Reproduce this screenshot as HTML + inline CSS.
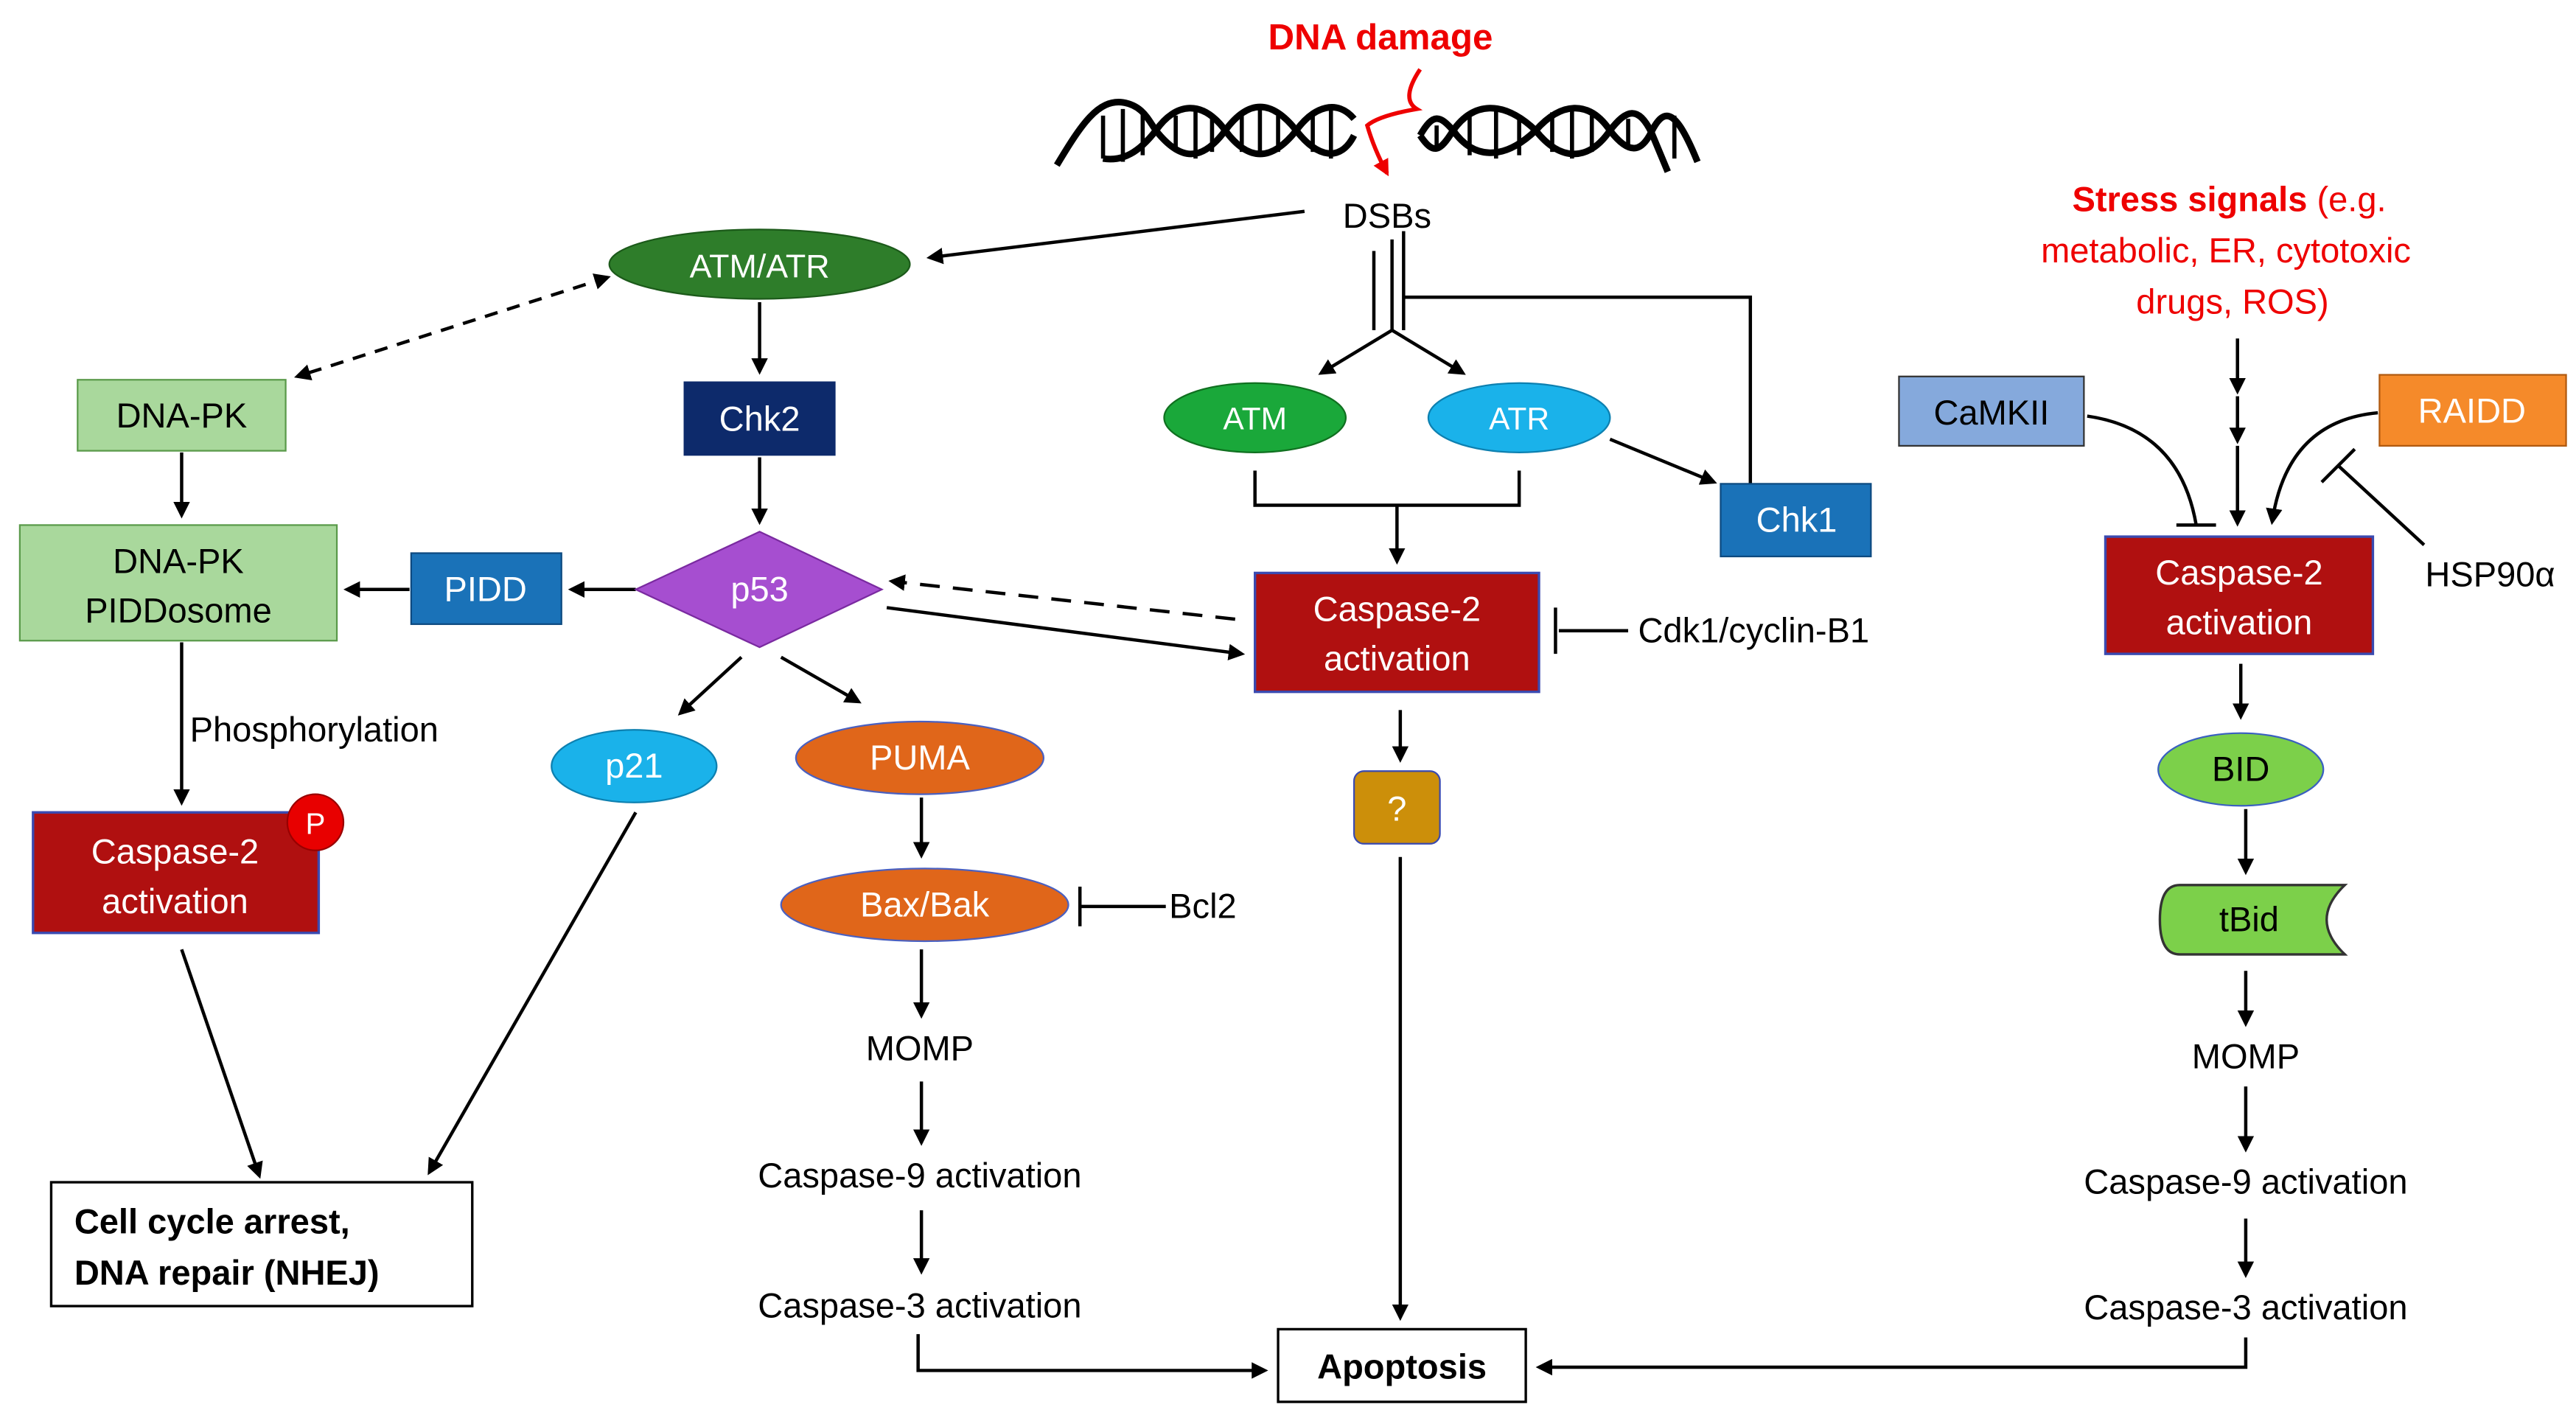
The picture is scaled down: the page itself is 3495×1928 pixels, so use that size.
<!DOCTYPE html>
<html><head><meta charset="utf-8"><style>
html,body{margin:0;padding:0;background:#fff}
svg{display:block}
text{font-family:"Liberation Sans",Arial,sans-serif}
</style></head><body>
<svg width="3495" height="1928" viewBox="0 0 1560 860.6" preserveAspectRatio="none" xmlns="http://www.w3.org/2000/svg">
<defs>
<marker id="a" markerWidth="10" markerHeight="10" refX="8" refY="5" orient="auto" markerUnits="userSpaceOnUse"><path d="M0,0 L10,5 L0,10 z" fill="#000"/></marker>
<marker id="as" markerWidth="10" markerHeight="10" refX="2" refY="5" orient="auto" markerUnits="userSpaceOnUse"><path d="M10,0 L0,5 L10,10 z" fill="#000"/></marker>
<marker id="ar" markerWidth="10" markerHeight="10" refX="8" refY="5" orient="auto" markerUnits="userSpaceOnUse"><path d="M0,0 L10,5 L0,10 z" fill="#e00"/></marker>
</defs>
<rect width="1560" height="861" fill="#fff"/>
<g stroke="#000" stroke-width="2" fill="none">
<!-- DNA helix -->
<g stroke-width="4">
<path d="M640,100 C655,75 665,60 680,62 C692,64 695,72 700,79 C715,98 728,98 742,79 C756,60 770,60 785,79 C798,96 812,98 820,82"/>
<path d="M668,96 C680,98 690,92 700,79 C712,62 728,60 742,79 C756,98 770,98 785,79 C796,64 810,60 820,72"/>
<path d="M860,82 C868,68 872,70 880,79 C892,96 910,98 930,79 C945,62 962,60 975,79 C988,96 995,90 1000,80 C1008,64 1015,66 1028,98"/>
<path d="M860,82 C868,94 872,92 880,79 C892,62 910,60 930,79 C945,98 962,98 975,79 C985,66 992,64 1000,80 L1010,104"/>
</g>
<g stroke-width="2.5">
<path d="M668,70 V96 M680,66 V98 M692,68 V94 M712,70 V92 M724,66 V96 M734,70 V92 M752,70 V92 M763,66 V95 M774,70 V92 M795,70 V92 M806,66 V96 M870,76 V88 M890,70 V94 M906,66 V96 M920,70 V94 M940,68 V92 M952,66 V96 M964,70 V92 M986,72 V90 M1014,70 V96"/>
</g>
<path d="M860,42 Q848,60 858,66 Q835,70 828,76 Q832,90 840,105" stroke="#e00" stroke-width="2.5" marker-end="url(#ar)"/>
<!-- arrows -->
<path d="M790,128 L563,156" marker-end="url(#a)"/>
<path d="M368,168 L180,228" stroke-dasharray="8,6" marker-end="url(#a)" marker-start="url(#as)"/>
<path d="M460,183 V225" marker-end="url(#a)"/>
<path d="M110,274 V312" marker-end="url(#a)"/>
<path d="M460,277 V316" marker-end="url(#a)"/>
<path d="M385,357 H346" marker-end="url(#a)"/>
<path d="M248,357 H210" marker-end="url(#a)"/>
<path d="M110,389 V486" marker-end="url(#a)"/>
<path d="M449,398 L412,432" marker-end="url(#a)"/>
<path d="M473,398 L520,425" marker-end="url(#a)"/>
<path d="M537,368 L752,396" marker-end="url(#a)"/>
<path d="M748,375 L540,352" stroke-dasharray="12,8" marker-end="url(#a)"/>
<path d="M110,575 L157,712" marker-end="url(#a)"/>
<path d="M385,492 L260,710" marker-end="url(#a)"/>
<path d="M558,483 V518" marker-end="url(#a)"/>
<path d="M558,575 V615" marker-end="url(#a)"/>
<path d="M558,655 V692" marker-end="url(#a)"/>
<path d="M558,733 V770" marker-end="url(#a)"/>
<path d="M556,808 V830 H766" marker-end="url(#a)"/>
<path d="M706,549 H654 M654,537 V561"/>
<!-- center -->
<path d="M832,152 V200"/>
<path d="M843,145 V200 M843,200 L800,226" marker-end="url(#a)"/>
<path d="M843,200 L886,226" marker-end="url(#a)"/>
<path d="M850,140 V200 M850,180 H1060 V293"/>
<path d="M975,266 L1038,292" marker-end="url(#a)"/>
<path d="M760,285 V306 H920 V285 M846,306 V340" marker-end="url(#a)"/>
<path d="M986,382 H944 M942,368 V396"/>
<path d="M848,430 V460" marker-end="url(#a)"/>
<path d="M848,519 V798" marker-end="url(#a)"/>
<!-- right -->
<path d="M1355,205 V235 M1355,240 V265 M1355,270 V316" />
<path d="M1355,225 V237" marker-end="url(#a)"/>
<path d="M1355,255 V267" marker-end="url(#a)"/>
<path d="M1355,295 V317" marker-end="url(#a)"/>
<path d="M1264,252 Q1320,260 1330,318 M1318,318 H1342"/>
<path d="M1440,250 Q1385,255 1376,316" marker-end="url(#a)"/>
<path d="M1468,330 L1416,282 M1406,292 L1426,272"/>
<path d="M1357,402 V434" marker-end="url(#a)"/>
<path d="M1360,490 V528" marker-end="url(#a)"/>
<path d="M1360,588 V620" marker-end="url(#a)"/>
<path d="M1360,658 V696" marker-end="url(#a)"/>
<path d="M1360,738 V772" marker-end="url(#a)"/>
<path d="M1360,810 V828 H932" marker-end="url(#a)"/>
</g>
<!-- nodes -->
<ellipse cx="460" cy="160" rx="91" ry="21" fill="#2e7d2a" stroke="#1c5a1a"/>
<rect x="47" y="230" width="126" height="43" fill="#a9d89c" stroke="#5a9a4a"/>
<rect x="414" y="231" width="92" height="45" fill="#0d2a6b"/>
<rect x="12" y="318" width="192" height="70" fill="#a9d89c" stroke="#5a9a4a"/>
<rect x="249" y="335" width="91" height="43" fill="#1a72b8" stroke="#0d4a80"/>
<polygon points="385,357 460,322 534,357 460,392" fill="#a64ed0" stroke="#7a2aa0"/>
<rect x="20" y="492" width="173" height="73" fill="#b01010" stroke="#3a4ab0" stroke-width="1.5"/>
<circle cx="191" cy="498" r="17" fill="#e80000" stroke="#900"/>
<ellipse cx="384" cy="464" rx="50" ry="22" fill="#1ab2ea" stroke="#0d80b0"/>
<ellipse cx="557" cy="459" rx="75" ry="22" fill="#e0661a" stroke="#4a60c0"/>
<ellipse cx="560" cy="548" rx="87" ry="22" fill="#e0661a" stroke="#4a60c0"/>
<rect x="31" y="716" width="255" height="75" fill="#fff" stroke="#000" stroke-width="1.5"/>
<rect x="774" y="805" width="150" height="44" fill="#fff" stroke="#000" stroke-width="1.5"/>
<ellipse cx="760" cy="253" rx="55" ry="21" fill="#1aa83a" stroke="#107020"/>
<ellipse cx="920" cy="253" rx="55" ry="21" fill="#1ab2ea" stroke="#0d80b0"/>
<rect x="1042" y="293" width="91" height="44" fill="#1a72b8" stroke="#0d4a80"/>
<rect x="760" y="347" width="172" height="72" fill="#b01010" stroke="#3a4ab0" stroke-width="1.5"/>
<rect x="820" y="467" width="52" height="44" rx="6" fill="#cc8f0a" stroke="#3a4ab0"/>
<rect x="1150" y="228" width="112" height="42" fill="#85a9dc" stroke="#333"/>
<rect x="1441" y="227" width="113" height="43" fill="#f58a2a" stroke="#b05a10"/>
<rect x="1275" y="325" width="162" height="71" fill="#b01010" stroke="#3a4ab0" stroke-width="1.5"/>
<ellipse cx="1357" cy="466" rx="50" ry="22" fill="#7cd04a" stroke="#3a60c0"/>
<path d="M1320,536 H1420 Q1398,557 1420,578 H1320 Q1308,578 1308,557 Q1308,536 1320,536 Z" fill="#7cd04a" stroke="#333" stroke-width="1.5"/>
<!-- text -->
<g font-size="21" text-anchor="middle" fill="#000">
<text x="836" y="30" fill="#e00" font-weight="bold" font-size="22">DNA damage</text>
<text x="840" y="138">DSBs</text>
<text x="460" y="168" fill="#fff" font-size="20">ATM/ATR</text>
<text x="110" y="259">DNA-PK</text>
<text x="460" y="261" fill="#fff">Chk2</text>
<text x="108" y="347">DNA-PK</text>
<text x="108" y="377">PIDDosome</text>
<text x="294" y="364" fill="#fff">PIDD</text>
<text x="460" y="364" fill="#fff">p53</text>
<text x="115" y="449" text-anchor="start">Phosphorylation</text>
<text x="106" y="523" fill="#fff">Caspase-2</text>
<text x="106" y="553" fill="#fff">activation</text>
<text x="191" y="505" fill="#fff" font-size="18">P</text>
<text x="384" y="471" fill="#fff">p21</text>
<text x="557" y="466" fill="#fff">PUMA</text>
<text x="560" y="555" fill="#fff">Bax/Bak</text>
<text x="708" y="556" text-anchor="start">Bcl2</text>
<text x="557" y="642">MOMP</text>
<text x="557" y="719">Caspase-9 activation</text>
<text x="557" y="798">Caspase-3 activation</text>
<text x="45" y="747" text-anchor="start" font-weight="bold">Cell cycle arrest,</text>
<text x="45" y="778" text-anchor="start" font-weight="bold">DNA repair (NHEJ)</text>
<text x="849" y="835" font-weight="bold">Apoptosis</text>
<text x="760" y="260" fill="#fff" font-size="19">ATM</text>
<text x="920" y="260" fill="#fff" font-size="19">ATR</text>
<text x="1088" y="322" fill="#fff">Chk1</text>
<text x="846" y="376" fill="#fff">Caspase-2</text>
<text x="846" y="406" fill="#fff">activation</text>
<text x="992" y="389" text-anchor="start">Cdk1/cyclin-B1</text>
<text x="846" y="497" fill="#fff">?</text>
<text x="1350" y="128" fill="#e00"><tspan font-weight="bold">Stress signals</tspan> (e.g.</text>
<text x="1348" y="159" fill="#e00">metabolic, ER, cytotoxic</text>
<text x="1352" y="190" fill="#e00">drugs, ROS)</text>
<text x="1206" y="257" fill="#000">CaMKII</text>
<text x="1497" y="256" fill="#fff">RAIDD</text>
<text x="1356" y="354" fill="#fff">Caspase-2</text>
<text x="1356" y="384" fill="#fff">activation</text>
<text x="1508" y="355">HSP90α</text>
<text x="1357" y="473">BID</text>
<text x="1362" y="564">tBid</text>
<text x="1360" y="647">MOMP</text>
<text x="1360" y="723">Caspase-9 activation</text>
<text x="1360" y="799">Caspase-3 activation</text>
</g>
</svg>
</body></html>
